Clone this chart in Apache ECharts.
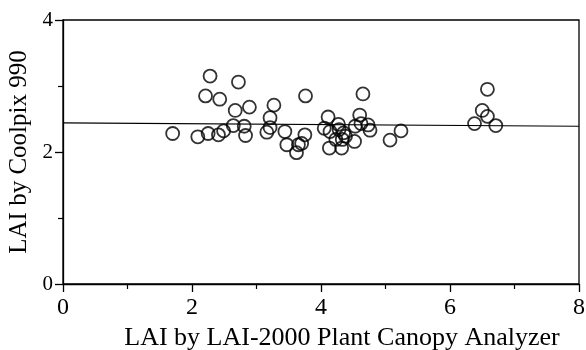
<!DOCTYPE html>
<html>
<head>
<meta charset="utf-8">
<script src="https://cdn.jsdelivr.net/npm/echarts@6/dist/echarts.min.js"></script>
<style>
  html, body { margin: 0; padding: 0; background: #fff; }
  #chart { width: 586px; height: 350px; }
</style>
</head>
<body>
<div id="chart"></div>
<script>
// LAI-2000 readings (x) vs Coolpix 990 estimates (y)
const laiX = [
  1.70, 2.09, 2.25, 2.41, 2.49, 2.64, 2.81, 2.83, 2.28, 2.72,
  2.21, 2.43, 2.67, 2.89, 3.27, 3.76, 3.21, 3.21, 3.16, 3.44,
  3.47, 3.65, 3.62, 3.75, 3.70, 4.11, 4.05, 4.14, 4.27, 4.13,
  4.28, 4.35, 4.38, 4.33, 4.23, 4.32, 4.52, 4.65, 4.60, 4.62,
  4.53, 4.73, 4.76, 5.24, 5.07, 6.58, 6.50, 6.58, 6.38, 6.71
];
const laiY = [
  2.28, 2.23, 2.28, 2.26, 2.32, 2.40, 2.39, 2.25, 3.15, 3.06,
  2.85, 2.80, 2.63, 2.68, 2.71, 2.85, 2.52, 2.37, 2.30, 2.31,
  2.11, 2.11, 1.99, 2.26, 2.13, 2.53, 2.36, 2.31, 2.42, 2.06,
  2.34, 2.29, 2.24, 2.19, 2.19, 2.06, 2.16, 2.88, 2.56, 2.43,
  2.39, 2.41, 2.33, 2.32, 2.18, 2.95, 2.63, 2.54, 2.43, 2.40
];
// fitted mean line end points
const lineX = [0, 8];
const lineY = [2.44, 2.39];

const font = "'Liberation Serif', 'DejaVu Serif', serif";
const ink = '#000';

const chart = echarts.init(document.getElementById('chart'));
chart.setOption({
  animation: false,
  backgroundColor: '#fff',
  grid: {
    left: 63, right: 7, top: 20, bottom: 66,
    outerBoundsMode: 'none',
    containLabel: false,
    show: true, borderColor: ink, borderWidth: 1.3
  },
  xAxis: {
    type: 'value', min: 0, max: 8, interval: 2,
    name: 'LAI by LAI-2000 Plant Canopy Analyzer',
    nameLocation: 'middle', nameGap: 40,
    nameTextStyle: { fontFamily: font, fontSize: 26, color: ink, padding: [0, 0, 0, 42] },
    axisLine: { lineStyle: { color: ink, width: 1.3 } },
    axisTick: { length: 8, lineStyle: { color: ink, width: 1.3 } },
    minorTick: { show: true, splitNumber: 2, length: 5, lineStyle: { color: ink, width: 1.2 } },
    axisLabel: { fontFamily: font, fontSize: 24, color: ink, margin: 12 },
    splitLine: { show: false }
  },
  yAxis: {
    type: 'value', min: 0, max: 4, interval: 2,
    name: 'LAI by Coolpix 990',
    nameLocation: 'middle', nameGap: 26,
    nameTextStyle: { fontFamily: font, fontSize: 25, color: ink },
    axisLine: { show: true, lineStyle: { color: ink, width: 1.3 } },
    axisTick: { show: true, length: 8, lineStyle: { color: ink, width: 1.3 } },
    minorTick: { show: true, splitNumber: 2, length: 5, lineStyle: { color: ink, width: 1.2 } },
    axisLabel: { fontFamily: font, fontSize: 21, color: ink, margin: 10 },
    splitLine: { show: false }
  },
  series: [
    {
      type: 'line',
      data: lineX.map((x, i) => [x, lineY[i]]),
      symbol: 'none',
      lineStyle: { color: ink, width: 1.2 },
      z: 1
    },
    {
      type: 'scatter',
      data: laiX.map((x, i) => [x, laiY[i]]),
      symbol: 'circle',
      symbolSize: 13,
      itemStyle: { color: 'rgba(0,0,0,0)', borderColor: ink, borderWidth: 1.8 },
      z: 2
    }
  ]
});
</script>
</body>
</html>
